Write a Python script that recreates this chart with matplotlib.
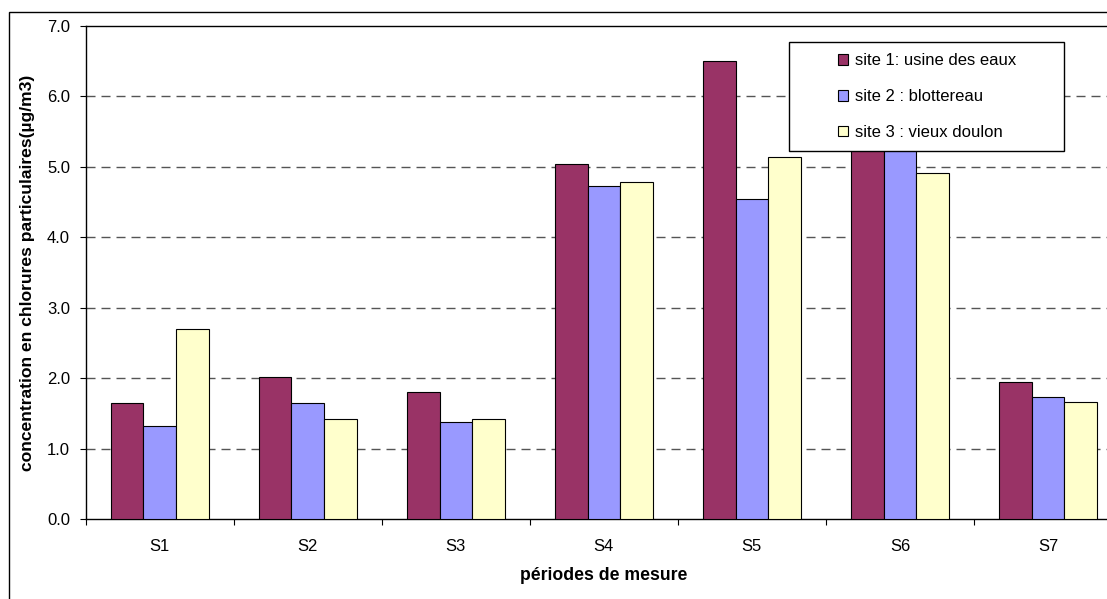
"""
Chlorures particulaires par période de mesure et par site.
"""

import numpy as np
import matplotlib.pyplot as plt
from matplotlib.patches import Rectangle, Patch

plt.rcParams['font.family'] = ['Liberation Sans', 'DejaVu Sans']

# Data
periods = ["S1", "S2", "S3", "S4", "S5", "S6", "S7"]
sites = ["site 1: usine des eaux", "site 2 : blottereau", "site 3 : vieux doulon"]
site1 = [1.65, 2.02, 1.81, 5.04, 6.51, 5.90, 1.95]
site2 = [1.33, 1.65, 1.38, 4.73, 4.54, 5.30, 1.73]
site3 = [2.70, 1.42, 1.42, 4.78, 5.14, 4.92, 1.67]
colors = ["#993366", "#9999FF", "#FFFFCC"]

W, H = 1107, 599  # figure size in pixels


def fx(px):
    return px / W


def fy(py):
    # pixel row measured from the top -> figure fraction
    return 1 - py / H


fig = plt.figure(figsize=(W / 100, H / 100), dpi=100)
fig.patch.set_facecolor("white")

# outer chart frame
fig.patches.append(Rectangle((fx(9), -0.05), 1.1, fy(12) + 0.05,
                             transform=fig.transFigure, fill=False,
                             edgecolor="black", linewidth=1))

left, right, top, bottom = 85.7, 1122, 26, 519.3
ax = fig.add_axes([fx(left), fy(bottom), fx(right - left), (bottom - top) / H])

x = np.arange(len(periods))
width = 0.22
for k, (vals, col) in enumerate(zip([site1, site2, site3], colors)):
    ax.bar(x + (k - 1) * width, vals, width, color=col,
           edgecolor="black", linewidth=0.8, zorder=3)

ax.set_xlim(-0.5, len(periods) - 0.5)
ax.set_ylim(0, 7)

# y axis
ax.set_yticks(np.arange(0, 8, 1))
ax.set_yticklabels([f"{v:.1f}" for v in np.arange(0, 8, 1)])
ax.tick_params(axis="y", direction="out", length=4.3, width=0.8, pad=7,
               labelsize=12)
for v in range(1, 7):
    ax.axhline(v, color="#555555", linewidth=1, linestyle=(0, (6.5, 4.3)),
               zorder=1)

# x axis: ticks between categories, labels centred
ax.set_xticks(np.arange(-0.5, len(periods), 1))
ax.set_xticklabels([])
ax.set_xticks(x, minor=True)
ax.set_xticklabels(periods, minor=True)
ax.tick_params(axis="x", which="major", direction="out", length=4.3, width=0.8)
ax.tick_params(axis="x", which="minor", length=0, pad=14, labelsize=12)

for s in ax.spines.values():
    s.set_linewidth(1)
    s.set_color("black")

fig.text(fx(604), fy(576), "périodes de mesure", ha="center", va="center",
         fontsize=12.7, fontweight="bold")
fig.text(fx(28), fy(273), "concentration en chlorures particulaires(µg/m3)",
         ha="center", va="center", rotation=90, fontsize=12.6,
         fontweight="bold")

# legend box
ax.add_patch(Rectangle((fx(789.3), fy(150.7)), fx(1064.3 - 789.3),
                       (150.7 - 42) / H, transform=fig.transFigure,
                       facecolor="white", edgecolor="black", linewidth=1,
                       zorder=5, clip_on=False))
handles = [Patch(facecolor=c, edgecolor="black", linewidth=0.8) for c in colors]
leg = ax.legend(handles, sites, loc="center left",
                bbox_to_anchor=(fx(838), fy(96.7)),
                bbox_transform=fig.transFigure, frameon=False, fontsize=12,
                handlelength=0.6, handleheight=0.6, handletextpad=0.4,
                labelspacing=1.25, borderpad=0, borderaxespad=0)
leg.set_zorder(6)

plt.savefig("out.png", dpi=100)
